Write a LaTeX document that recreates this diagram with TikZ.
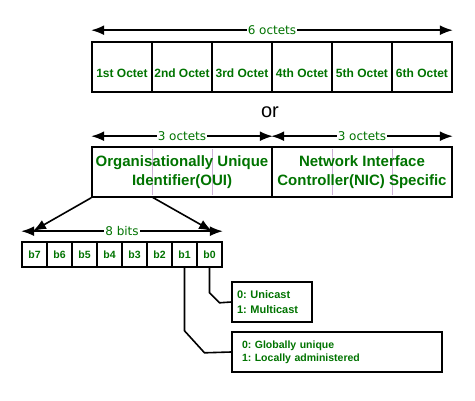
\documentclass[tikz,border=0pt]{standalone}
\usepackage{fontspec}
\setmainfont{Liberation Sans}
\newfontfamily\spanfont{DejaVu Sans}
\usetikzlibrary{arrows.meta}
\definecolor{macgreen}{RGB}{0,115,0}
\definecolor{lilac}{RGB}{205,175,215}
\frenchspacing
\tikzset{
  cell/.style={draw, line width=1.6pt, inner sep=0pt, text=macgreen, font=\bfseries\fontsize{12}{14}\selectfont},
  span/.style={line width=1.6pt, <->},
  tag/.style={fill=white, inner sep=1pt, text=macgreen, font=\spanfont\fontsize{12}{14}\selectfont},
  wire/.style={line width=1.6pt},
  notebox/.style={draw, line width=1.6pt, align=left, text=macgreen, font=\bfseries\fontsize{11}{15}\selectfont}
}

\begin{document}
\begin{tikzpicture}[x=1pt, y=-1pt, >={Latex[length=13pt,width=10pt]}]

\useasboundingbox (0,0) rectangle (475,400);

\def\cw{60}

% six octets
\foreach \i/\t in {0/1st,1/2nd,2/3rd,3/4th,4/5th,5/6th}
  \node[cell, minimum width=\cw pt, minimum height=50pt, text height=20pt, text depth=0pt] (oct\i) at (122+\cw*\i, 67) {\t\ Octet};
\draw[span] ([yshift=11pt]oct0.north west) -- node[tag] {6 octets} ([yshift=11pt]oct5.north east);

\node[font=\fontsize{20}{24}\selectfont] (or) at (270, 112) {or};

% OUI / NIC
\foreach \x in {152,212,332,392}
  \draw[lilac, line width=1pt] (\x,149) -- (\x,195);
\node[cell, minimum width=180pt, minimum height=50pt, align=center, font=\bfseries\fontsize{15}{19}\selectfont] (oui) at (182, 172) {Organisationally Unique\\Identifier(OUI)};
\node[cell, minimum width=180pt, minimum height=50pt, align=center, font=\bfseries\fontsize{15}{19}\selectfont] (nic) at (362, 172) {Network Interface\\Controller(NIC) Specific};
\draw[span] ([yshift=10pt]oui.north west) -- node[tag] {3 octets} ([yshift=10pt]oui.north east);
\draw[span] ([yshift=10pt]nic.north west) -- node[tag] {3 octets} ([yshift=10pt]nic.north east);

% first octet bits
\foreach \i in {0,...,7}
  \node[cell, minimum width=25pt, minimum height=25pt, font=\bfseries\fontsize{10.5}{12}\selectfont] (bit\i) at (209.5-25*\i, 254.5) {b\i};
\draw[span] ([yshift=10pt]bit7.north west) -- node[tag] {8 bits} ([yshift=10pt]bit0.north east);

\coordinate (ouimid) at (152,197);
\coordinate (leftend) at (33,231);
\coordinate (rightend) at (212,231);
\draw[wire, ->] (oui.south west) -- (leftend);
\draw[wire, ->] (ouimid) -- (rightend);

% meaning of b0 and b1
\node[notebox, minimum width=80pt, minimum height=40pt, text width=70pt, inner xsep=5pt] (cast) at (272, 302) {0: Unicast\\1: Multicast};
\node[notebox, minimum width=210pt, minimum height=40pt, text width=190pt, inner xsep=10pt, font=\bfseries\fontsize{10.5}{13}\selectfont] (admin) at (337, 352) {0: Globally unique\\1: Locally administered};

\draw[wire] (bit0.south) -- ++(0,25) -- ++(10,10) -- (cast.west);
\draw[wire] (bit1.south) -- ++(0,63) -- ++(20,22) -- (admin.west);

\end{tikzpicture}
\end{document}
